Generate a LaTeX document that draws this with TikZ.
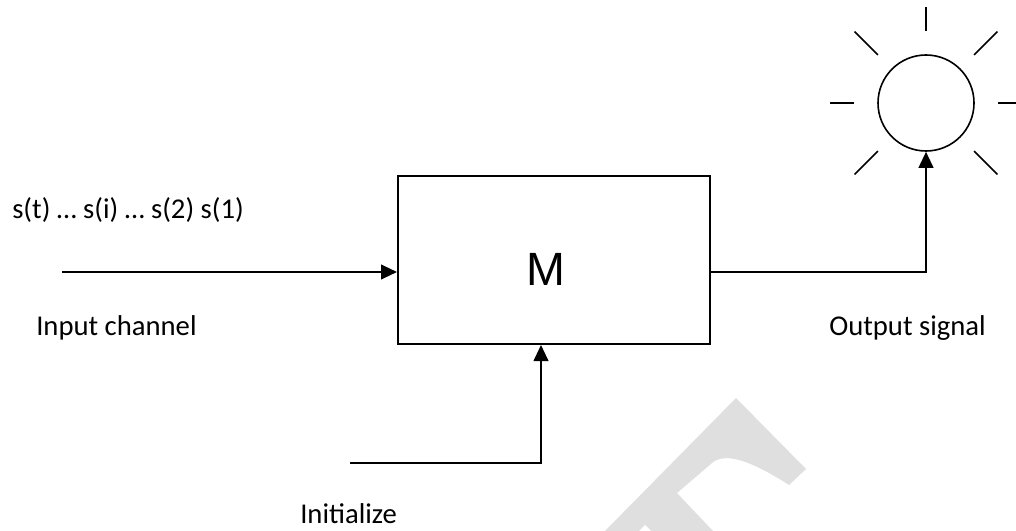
\documentclass[tikz,border=0pt]{standalone}
\usepackage{fontspec}
\setmainfont{Carlito}
\newfontfamily\blockfont{Liberation Sans}
\usetikzlibrary{arrows.meta}

\tikzset{
  sig/.style={line width=1.5pt,-{Triangle[length=12pt,width=11pt]}},
  wire/.style={line width=1.5pt},
  blockbox/.style={draw,line width=1.5pt,minimum width=234pt,minimum height=126pt,inner sep=0pt},
  lamp/.style={draw,circle,line width=1.2pt,minimum size=72pt,inner sep=0pt},
  ray/.style={line width=1.2pt},
  lbl/.style={font=\fontsize{21.5}{24}\selectfont,inner sep=0pt,anchor=base west}
}

\begin{document}
\begin{tikzpicture}[x=0.75pt,y=-0.75pt]
\useasboundingbox (0,0) rectangle (1016,531);

% watermark
\fill[gray!25] (605,531) -- (736,398) -- (806,469) -- (789,485)
  .. controls (750,460) and (725,452) .. (712,463) -- (677,493) -- (713,531) -- cycle;
\fill[white] (639,531) -- (645,525) -- (651,531) -- cycle;

% machine
\node[blockbox] (M) at (554,260) {};
\node[font=\blockfont\fontsize{35}{40}\selectfont,inner sep=0pt] (Mname) at (546,269) {M};

% output lamp
\node[lamp] (lamp) at (926,103) {};
\foreach \a in {0,90,180}
  \draw[ray] ([shift={(\a:72pt*0.75)}]lamp.center) -- ([shift={(\a:96pt*0.75)}]lamp.center);
\foreach \a in {45,135,225,315}
  \draw[ray] ([shift={(\a:68pt*0.75)}]lamp.center) -- ([shift={(\a:101pt*0.75)}]lamp.center);

% input
\coordinate (in) at (62,272);
\draw[sig] (in) -- (in -| M.west);
\node[lbl] (seq) at (12,218) {s(t) … s(i) … s(2) s(1)};
\node[lbl] (inlbl) at (36,335) {Input channel};

% output
\draw[sig] (in -| M.east) -| (lamp.south);
\node[lbl] (outlbl) at (829,335) {Output signal};

% initialize
\coordinate (init) at (350,463);
\coordinate (initup) at (541,463);
\draw[sig] (init) -- (initup) -- (initup |- M.south);
\node[lbl] (initlbl) at (300,523) {Initialize};
\end{tikzpicture}
\end{document}
